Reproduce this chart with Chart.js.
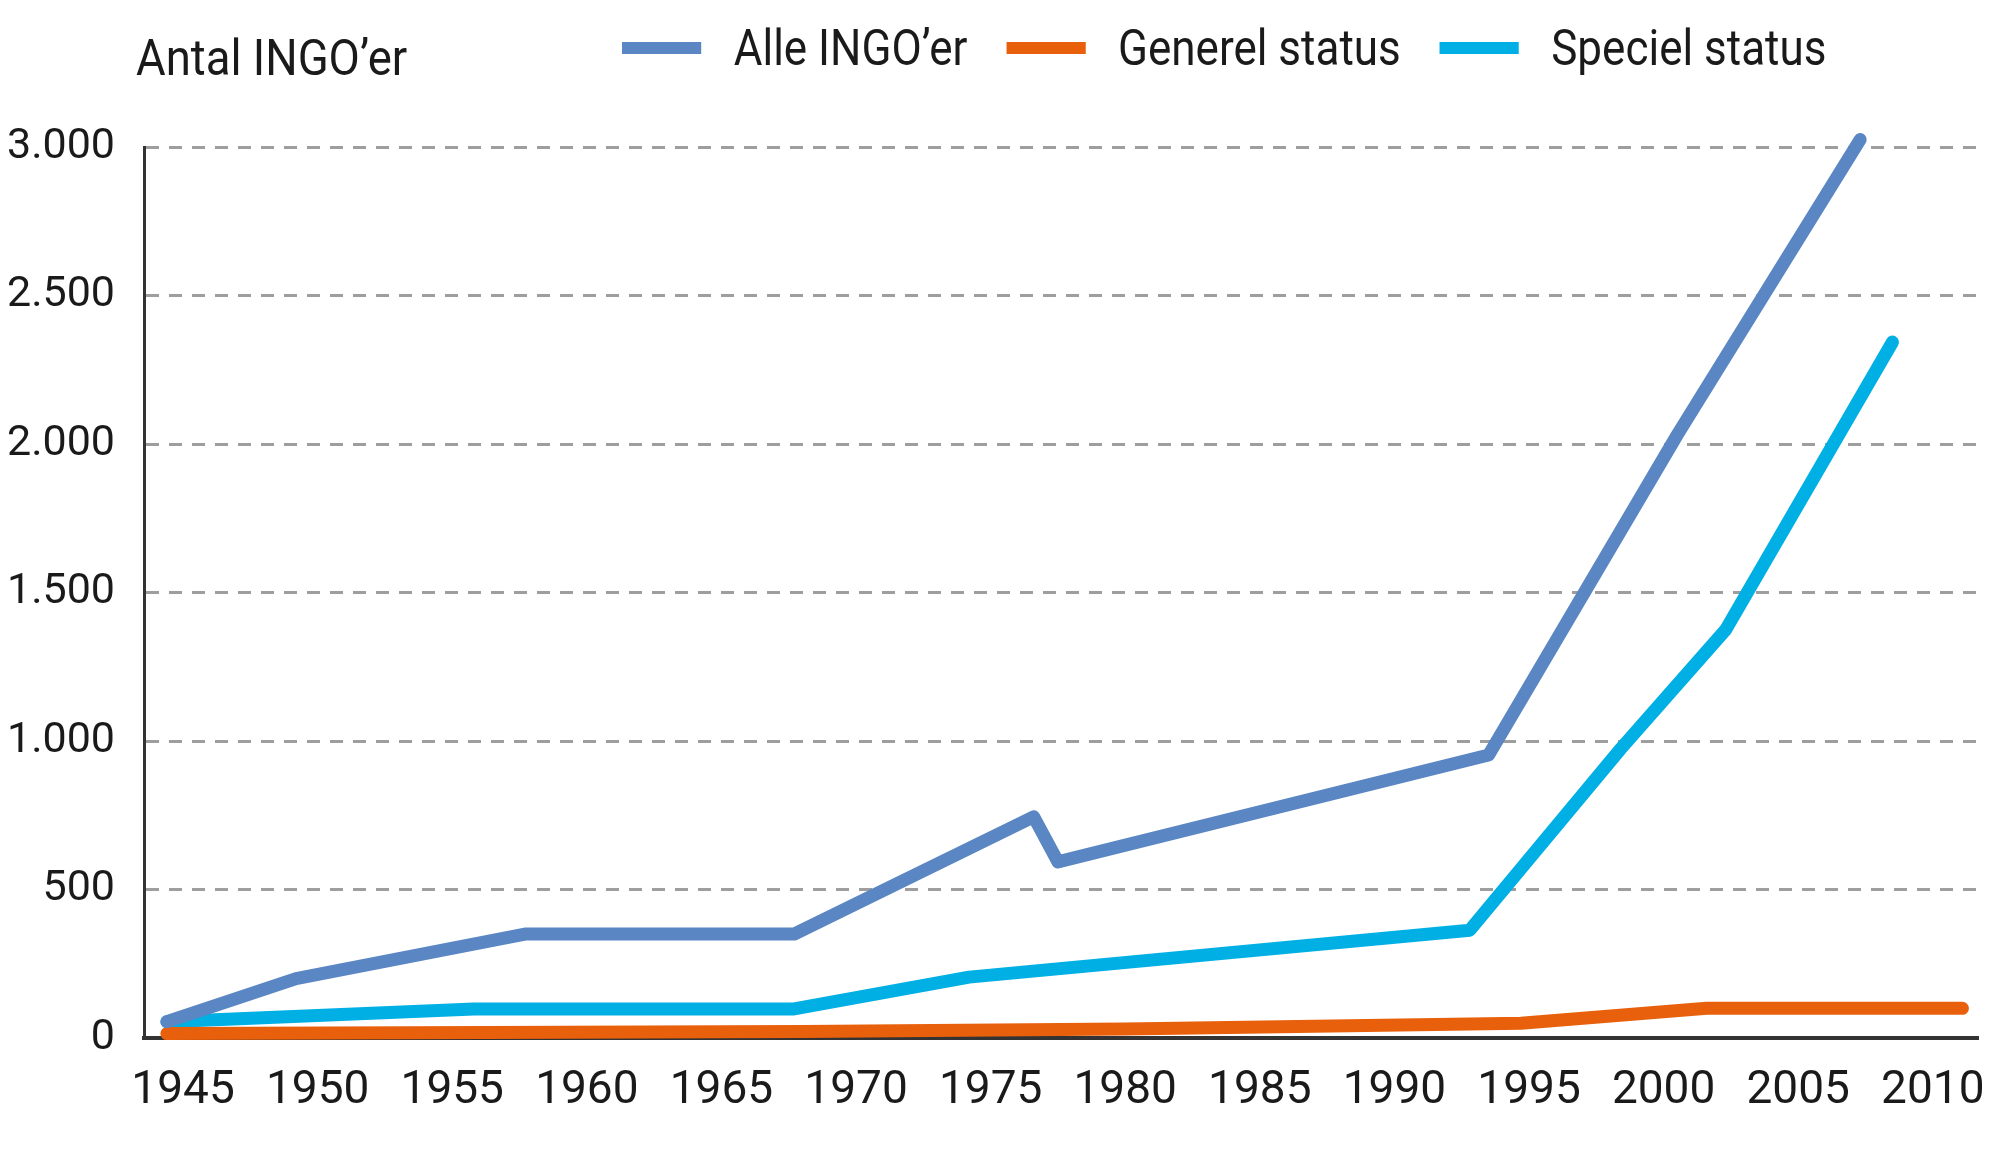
<!DOCTYPE html>
<html lang="da">
<head>
<meta charset="utf-8">
<title>Antal INGO'er</title>
<script src="https://cdn.jsdelivr.net/npm/chart.js@4.4.1/dist/chart.umd.min.js"></script>
<style>
    html, body { margin: 0; padding: 0; background: #fff; }
    #wrap { position: relative; width: 2000px; height: 1165px; }
    /* no condensed face is installed, so Roboto is squeezed a little */
    #yTitle, #legend {
        position: absolute;
        font-family: Roboto, sans-serif;
        font-size: 50px;
        line-height: 60px;
        color: #1a1a1a;
        white-space: nowrap;
        transform: scaleX(0.88);
        transform-origin: 0 50%;
    }
    #yTitle { left: 136px; top: 28px; transform: scaleX(0.91); }
    #legend { left: 622px; top: 18px; display: flex; align-items: center; }
    #legend .item { display: flex; align-items: center; margin-right: 44px; }
    #legend .swatch { display: inline-block; width: 90px; height: 12px; margin-right: 37px; }
</style>
</head>
<body>
<div id="wrap">
    <canvas id="chart" width="2000" height="1165"></canvas>
    <div id="yTitle">Antal INGO’er</div>
    <div id="legend"></div>
</div>
<script>
"use strict";

// series (year, number of INGOs)
const seriesNames = ["Alle INGO’er", "Generel status", "Speciel status"];

const allYears = [1944.4, 1949.2, 1957.7, 1967.7, 1976.6, 1977.5, 1993.5, 2000.5, 2007.3];
const allValues = [55, 200, 350, 350, 745, 593, 953, 2030, 3025];

const genYears = [1944.4, 1968, 1980, 1994.7, 2001.6, 2011.1];
const genValues = [15, 22, 30, 50, 100, 100];

const specYears = [1944.4, 1955.8, 1967.7, 1974.2, 1992.8, 1998.4, 2002.3, 2008.5];
const specValues = [55, 98, 98, 205, 363, 973, 1374, 2343];

const xTicks = [1945, 1950, 1955, 1960, 1965, 1970, 1975, 1980, 1985, 1990, 1995, 2000, 2005, 2010];
const yTicks = [0, 500, 1000, 1500, 2000, 2500, 3000];

function toPoints(xs, ys) {
    return xs.map((x, i) => ({ x: x, y: ys[i] }));
}

function danish(v) {
    return String(v).replace(/\B(?=(\d{3})+(?!\d))/g, ".");
}

function lineSet(label, points, color) {
    return {
        label: label,
        data: points,
        borderColor: color,
        backgroundColor: color,
        borderWidth: 13,
        borderCapStyle: "round",
        borderJoinStyle: "round",
        pointRadius: 0,
        tension: 0,
        clip: false,
    };
}

const chart = new Chart(document.getElementById("chart").getContext("2d"), {
    type: "line",
    data: {
        datasets: [
            lineSet(seriesNames[0], toPoints(allYears, allValues), "#5a86c3"),
            lineSet(seriesNames[1], toPoints(genYears, genValues), "#e8600c"),
            lineSet(seriesNames[2], toPoints(specYears, specValues), "#00afe4"),
        ],
    },
    options: {
        responsive: false,
        devicePixelRatio: 1,
        animation: false,
        layout: { padding: { top: 147, right: 19, bottom: 19, left: 9 } },
        plugins: {
            legend: { display: false },
            title: { display: false },
            tooltip: { enabled: false },
        },
        scales: {
            x: {
                type: "linear",
                min: 1943.55,
                max: 2011.7,
                afterBuildTicks: (axis) => { axis.ticks = xTicks.map(v => ({ value: v })); },
                afterFit: (axis) => { axis.height = 108; },
                ticks: {
                    autoSkip: false,
                    maxRotation: 0,
                    padding: 15,
                    color: "#1a1a1a",
                    font: { family: "Roboto", size: 46, lineHeight: "60px" },
                    callback: (v) => String(v),
                },
                grid: { display: false },
                border: { display: true, color: "#333", width: 4 },
            },
            y: {
                min: 0,
                max: 3000,
                afterBuildTicks: (axis) => { axis.ticks = yTicks.map(v => ({ value: v })); },
                afterFit: (axis) => { axis.width = 135; },
                ticks: {
                    padding: 29,
                    color: "#1a1a1a",
                    font: { family: "Roboto", size: 43 },
                    callback: (v) => danish(v),
                },
                grid: {
                    drawTicks: false,
                    color: (ctx) => (ctx.tick && ctx.tick.value === 0 ? "rgba(0,0,0,0)" : "#9e9e9e"),
                    lineWidth: 3,
                },
                // in v4 border.dash is the dash of the grid lines
                border: { display: true, color: "#333", width: 3, dash: [13, 10] },
            },
        },
    },
});

// legend built from the chart's own datasets
(function buildLegend() {
    const box = document.getElementById("legend");
    chart.data.datasets.forEach((ds) => {
        const item = document.createElement("span");
        item.className = "item";
        const sw = document.createElement("span");
        sw.className = "swatch";
        sw.style.background = ds.borderColor;
        const txt = document.createElement("span");
        txt.textContent = ds.label;
        item.appendChild(sw);
        item.appendChild(txt);
        box.appendChild(item);
    });
})();
</script>
</body>
</html>
